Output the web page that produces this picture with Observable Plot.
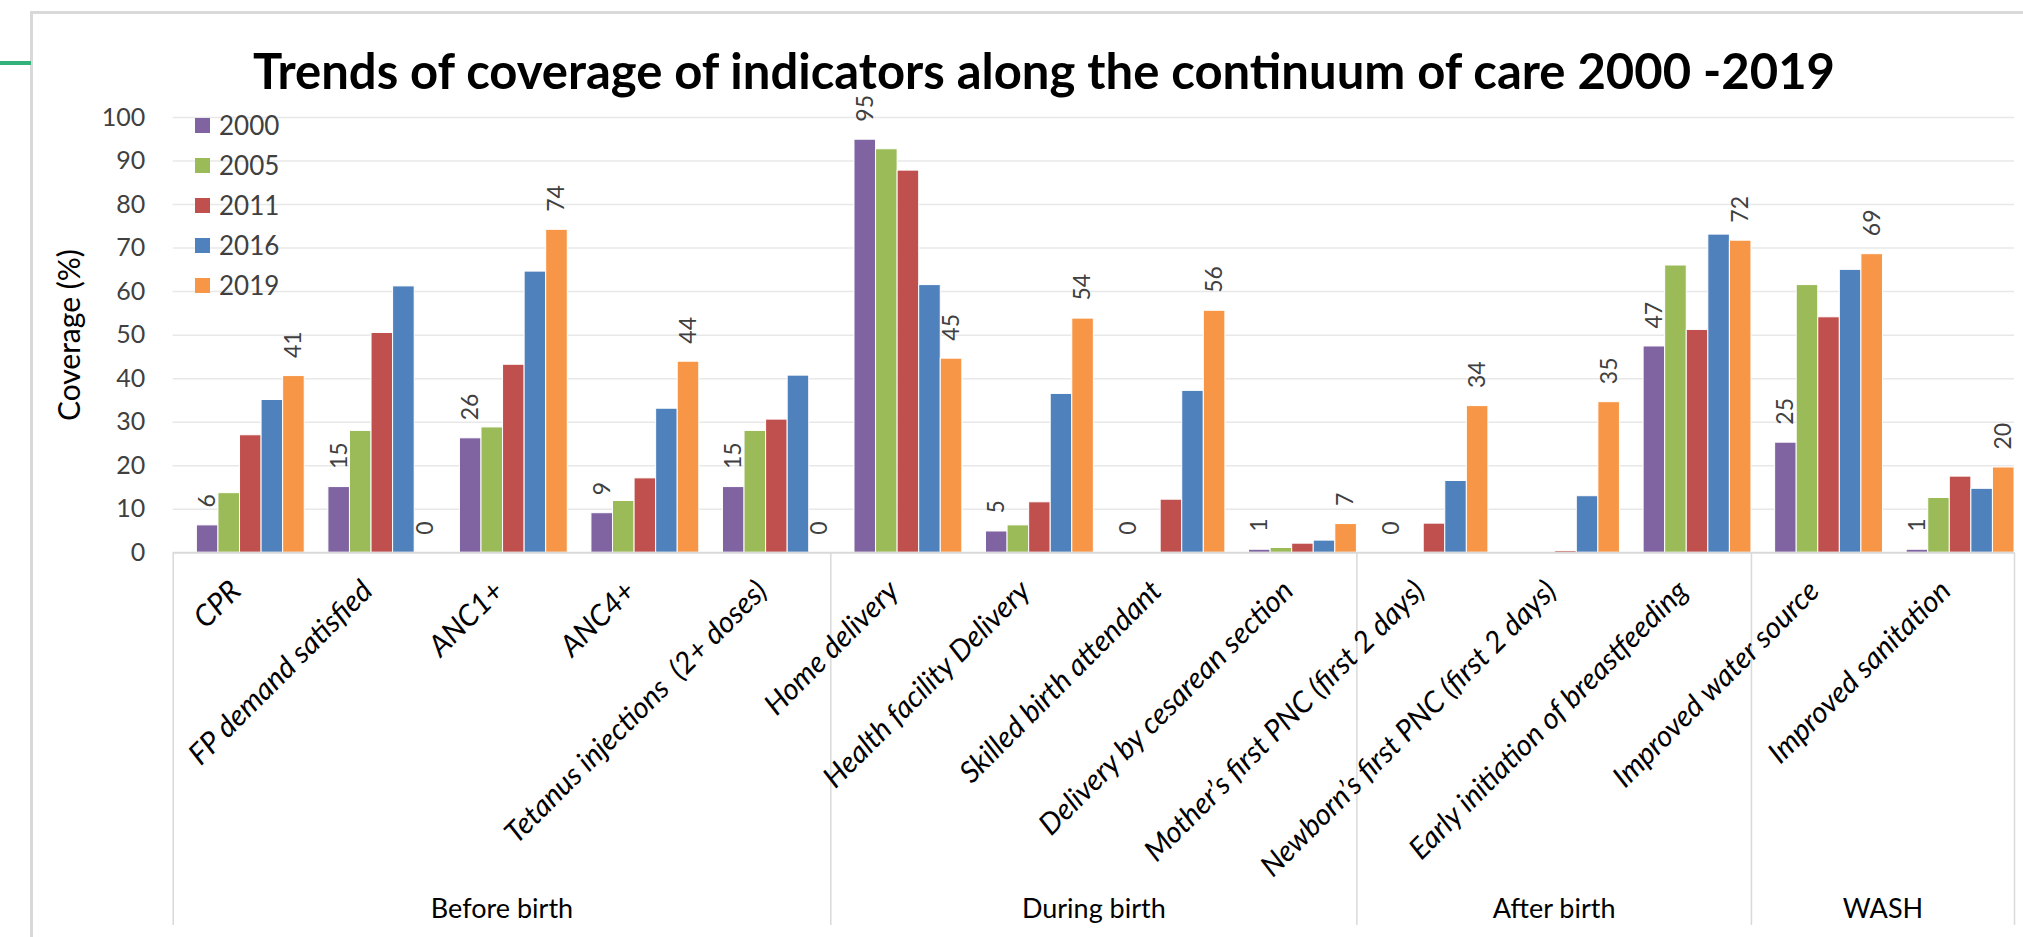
<!DOCTYPE html>
<html><head><meta charset="utf-8">
<script src="https://cdn.jsdelivr.net/npm/d3@7"></script>
<script src="https://cdn.jsdelivr.net/npm/@observablehq/plot@0.6"></script>
<style>
html,body{margin:0;padding:0;background:#fff;overflow:hidden}
#wrap{position:relative;width:2023px;height:937px;font-family:Lato,"Open Sans",sans-serif}
#title{position:absolute;left:1044px;top:40px;transform:translateX(-50%);white-space:nowrap;font-weight:700;font-size:49px;line-height:60px;color:#000}
#chart{position:absolute;left:0;top:80px}
#legend{position:absolute;left:195px;top:105px}
.row{height:40px;display:flex;align-items:center}
.sw{width:15px;height:15px;margin-right:9px}
.lab{font-size:26px;color:#404040}
.bt{position:absolute;background:#D9D9D9}
svg text{white-space:pre}
</style></head><body>
<div id="wrap">
 <div class="bt" style="left:31px;top:11px;width:1992px;height:3px"></div>
 <div class="bt" style="left:30px;top:11px;width:3px;height:926px"></div>
 <div style="position:absolute;left:0;top:61px;width:31px;height:4px;background:#33B27B"></div>
 <div id="title">Trends of coverage of indicators along the continuum of care 2000 -2019</div>
 <div id="chart"></div>
 <div id="legend"></div>
</div>
<script>
const categories = ["CPR","FP demand satisfied","ANC1+","ANC4+","Tetanus injections  (2+ doses)","Home delivery","Health facility Delivery","Skilled birth attendant","Delivery by cesarean section","Mother\u2019s first PNC (first 2 days)","Newborn\u2019s first PNC (first 2 days)","Early initiation of breastfeeding","Improved water source","Improved sanitation"];
const groups = ["Before birth","During birth","After birth","WASH"];
const groupSizes = [5,4,3,2];
const years = ["2000","2005","2011","2016","2019"];
const v2000 = [6.3, 15.1, 26.3, 9.1, 15.1, 94.9, 4.9, 0, 0.7, 0, null, 47.4, 25.3, 0.7];
const v2005 = [13.7, 28.0, 28.8, 11.9, 28.0, 92.7, 6.3, null, 1.1, null, null, 66.0, 61.5, 12.6];
const v2011 = [27.0, 50.5, 43.2, 17.1, 30.6, 87.8, 11.6, 12.2, 2.1, 6.7, 0.4, 51.2, 54.1, 17.5];
const v2016 = [35.1, 61.2, 64.6, 33.1, 40.7, 61.5, 36.5, 37.2, 2.8, 16.5, 13.0, 73.1, 65.0, 14.7];
const v2019 = [40.6, 0, 74.2, 43.9, 0, 44.6, 53.8, 55.6, 6.6, 33.7, 34.6, 71.7, 68.6, 19.6];
const labelledYears = ["2000","2019"];
const yTicks = [0,10,20,30,40,50,60,70,80,90,100];
const colors = ["#8064A2","#9BBB59","#C0504D","#4F81BD","#F79646"];

const series = [v2000, v2005, v2011, v2016, v2019];

// layout
const W = 2023, H = 857;
const mL = 172.7, mR = 9, mT = 37, mB = 384.7;
const xOpts = {type: "band", domain: categories, range: [mL, W - mR], paddingInner: 0.18, paddingOuter: 0.09, align: 1, round: false};
const xs = Plot.scale({x: xOpts});
const bw = xs.bandwidth;
const step = xs.step || bw / (1 - 0.18);
const gap = step - bw;
const w = bw / years.length;
const yPerUnit = (H - mB - mT) / 100;
const yBottom = -(845 - (H - mB)) / yPerUnit;

// group structure
const firsts = [], lasts = [];
{ let k = 0; for (const s of groupSizes) { firsts.push(categories[k]); lasts.push(categories[k + s - 1]); k += s; } }

const idx = d3.range(categories.length);
const bars = years.map((yr, j) => Plot.barY(idx.filter(i => series[j][i] != null && series[j][i] > 0), {
  x: i => categories[i], y: i => series[j][i], fill: colors[j],
  insetLeft: j * w, insetRight: (years.length - 1 - j) * w, stroke: "#fff", strokeWidth: 1
}));
const labels = labelledYears.map(yr => {
  const j = years.indexOf(yr);
  return Plot.text(idx.filter(i => series[j][i] != null), {
    x: i => categories[i], y: i => series[j][i], text: i => String(Math.round(series[j][i])),
    rotate: -90, textAnchor: "start", lineAnchor: "middle", dy: -18, dx: (j - 2) * w, fontSize: 23, fill: "#404040"
  });
});
const groupLabels = groups.map((g, k) => {
  const off = (xs.apply(lasts[k]) - xs.apply(firsts[k])) / 2 - gap / 2;
  return Plot.text([g], {x: () => firsts[k], text: d => d, frameAnchor: "bottom", lineAnchor: "middle", textAnchor: "middle", dy: 357, dx: off, fontSize: 27, fill: "#000"});
});

const plot = Plot.plot({
  width: W, height: H,
  marginLeft: mL, marginRight: mR, marginTop: mT, marginBottom: mB,
  style: {fontFamily: "Lato, 'Open Sans', sans-serif", fontSize: "25px", color: "#404040", background: "transparent", overflow: "visible"},
  x: {...xOpts, axis: null},
  y: {domain: [0, 100], ticks: yTicks, tickSize: 0, tickPadding: 28, label: null},
  marks: [
    Plot.ruleY(yTicks.filter(d => d > 0), {stroke: "#E8E8E8", strokeWidth: 1.5}),
    ...bars,
    Plot.ruleY([0], {stroke: "#D9D9D9", strokeWidth: 2}),
    Plot.ruleX(firsts, {x: d => d, y1: 0, y2: yBottom, dx: -bw / 2 - gap, stroke: "#D9D9D9", strokeWidth: 1.5}),
    Plot.ruleX([lasts[lasts.length - 1]], {x: d => d, y1: 0, y2: yBottom, dx: bw / 2, stroke: "#D9D9D9", strokeWidth: 1.5}),
    ...labels,
    Plot.text(categories, {x: d => d, text: d => d, frameAnchor: "bottom", rotate: -45, textAnchor: "end", lineAnchor: "bottom", dy: 40, dx: -8, fontSize: 29.5, fontStyle: "italic", fill: "#000"}),
    ...groupLabels,
    Plot.text(["Coverage (%)"], {text: d => d, frameAnchor: "left", textAnchor: "middle", lineAnchor: "middle", dx: -103, rotate: -90, fontSize: 30, fill: "#000"})
  ]
});
document.getElementById("chart").appendChild(plot);

const legend = document.getElementById("legend");
years.forEach((yr, j) => {
  const row = document.createElement("div"); row.className = "row";
  const sw = document.createElement("div"); sw.className = "sw"; sw.style.background = colors[j];
  const lab = document.createElement("span"); lab.className = "lab"; lab.textContent = yr;
  row.appendChild(sw); row.appendChild(lab); legend.appendChild(row);
});
</script>
</body></html>
